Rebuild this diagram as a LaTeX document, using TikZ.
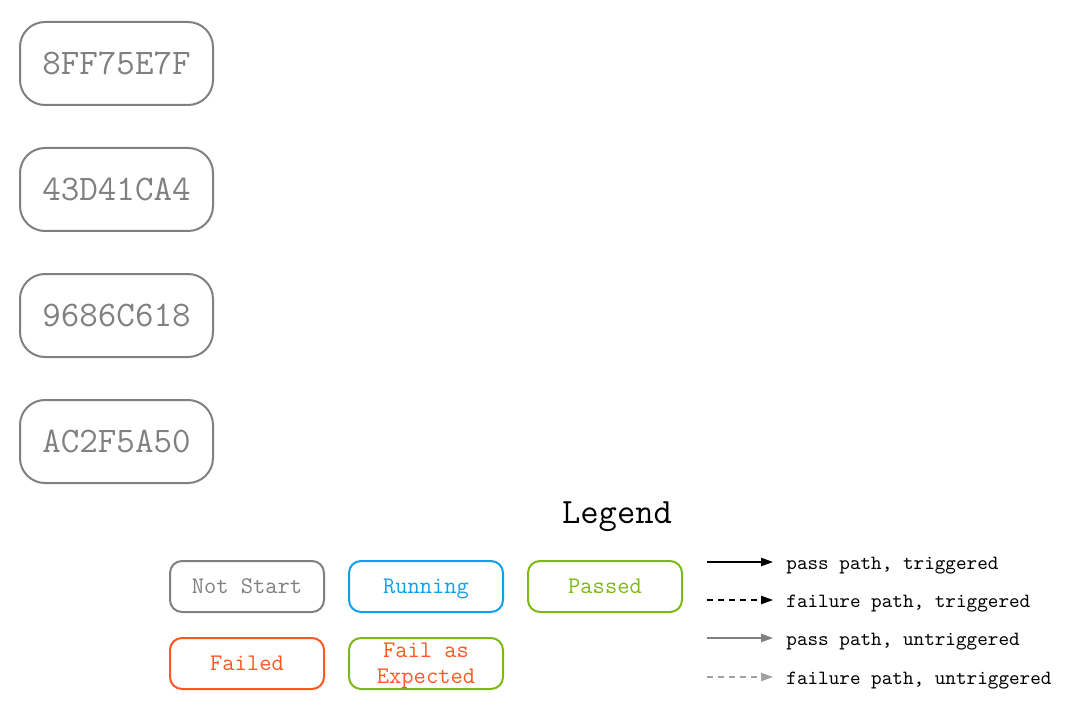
\documentclass[tikz,border=0pt]{standalone}
\usepackage{fontspec}
\usetikzlibrary{arrows.meta}
\definecolor{idle}{RGB}{128,128,128}
\definecolor{idlelight}{RGB}{160,160,160}
\definecolor{run}{RGB}{16,160,234}
\definecolor{pass}{RGB}{124,184,22}
\definecolor{fail}{RGB}{255,86,34}
\tikzset{
  job/.style={draw=idle, text=idle, line width=1pt, rounded corners=12.5pt,
    minimum width=96.5pt, minimum height=41.5pt, inner sep=0pt,
    text height=11pt, text depth=0pt,
    font=\ttfamily\fontsize{18}{20}\selectfont},
  state/.style={draw=#1, line width=1pt, rounded corners=6pt,
    minimum width=77pt, minimum height=25.5pt, inner sep=0pt, align=center,
    text height=7.3pt, text depth=0pt,
    font=\ttfamily\fontsize{11.9}{13}\selectfont},
  key/.style={anchor=west, inner sep=0pt, text height=6.2pt, text depth=0pt,
    font=\ttfamily\fontsize{10.1}{11}\selectfont},
  tip/.style={-{Triangle[length=6pt,width=4.2pt]}, line width=0.6pt},
}
\begin{document}
\begin{tikzpicture}[x=0.5pt, y=-0.5pt]
\useasboundingbox (0,0) rectangle (1072,722);
% jobs
\node[job] (j1) at (116.5, 63.5) {8FF75E7F};
\node[job] (j2) at (116.5, 189.5) {43D41CA4};
\node[job] (j3) at (116.5, 315.5) {9686C618};
\node[job] (j4) at (116.5, 441.5) {AC2F5A50};
% legend
\node[text height=10.9pt, text depth=0pt, font=\ttfamily\fontsize{17.8}{20}\selectfont] (leg) at (617, 513) {Legend};
\node[state=idle, text=idle] (s1) at (247, 586.5) {Not Start};
\node[state=run, text=run] (s2) at (426, 586.5) {Running};
\node[state=pass, text=pass] (s3) at (605, 586.5) {Passed};
\node[state=fail, text=fail] (s4) at (247, 663.5) {Failed};
\node[state=pass, text=fail, text height=20.3pt] (s5) at (426, 663.5) {Fail as\\Expected};
% arrows
\coordinate (a1) at (707, 562); \coordinate (b1) at (773, 562);
\coordinate (a2) at (707, 600); \coordinate (b2) at (773, 600);
\coordinate (a3) at (707, 638); \coordinate (b3) at (773, 638);
\coordinate (a4) at (707, 677); \coordinate (b4) at (773, 677);
\draw[tip] (a1) -- (b1);
\draw[tip, dash pattern=on 3pt off 2.5pt] (a2) -- (b2);
\draw[tip, idle] (a3) -- (b3);
\draw[tip, idlelight, dash pattern=on 3pt off 2.5pt] (a4) -- (b4);
\node[key] (k1) at (786, 563) {pass path, triggered};
\node[key] (k2) at (786, 601) {failure path, triggered};
\node[key] (k3) at (786, 639) {pass path, untriggered};
\node[key] (k4) at (786, 678) {failure path, untriggered};
\end{tikzpicture}
\end{document}
